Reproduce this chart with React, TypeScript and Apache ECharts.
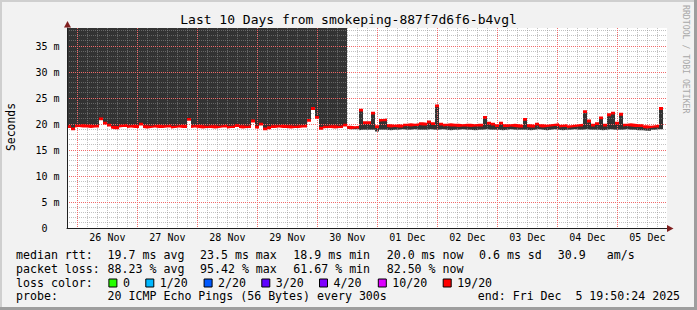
import React, { useEffect, useRef } from 'react';
import * as echarts from 'echarts';

const W = 697;
const H = 310;
const MONO = '"DejaVu Sans Mono", "Liberation Mono", monospace';

const chartTitle = 'Last 10 Days from smokeping-887f7d6f6-b4vgl';
const yAxisName = 'Seconds';
const watermark = 'RRDTOOL / TOBI OETIKER';

// time axis in hours since graph start (Tue Nov 25 19:50:24 2025)
const spanHours = 240;
const sampleStepHours = 1.6;
const firstMidnightHours = 4.16;
const dayLabels = ['26 Nov', '27 Nov', '28 Nov', '29 Nov', '30 Nov', '01 Dec', '02 Dec', '03 Dec', '04 Dec', '05 Dec'];

const yMax = 38.5;
const yMajorTicks = [0, 5, 10, 15, 20, 25, 30, 35];
const yMinorTicks = [1, 2, 3, 4, 6, 7, 8, 9, 11, 12, 13, 14, 16, 17, 18, 19, 21, 22, 23, 24, 26, 27, 28, 29, 31, 32, 33, 34, 36, 37, 38];

// median RTT (ms), one value per sample
const medianRtt = [
  19.5, 19.1, 19.6, 19.7, 19.6, 19.6, 19.5, 19.6, 21.0, 20.2,
  19.8, 19.4, 19.3, 19.6, 19.7, 19.5, 19.6, 19.5, 20.0, 19.5,
  19.4, 19.5, 19.6, 19.5, 19.5, 19.6, 19.4, 19.5, 19.6, 19.5,
  20.9, 19.5, 19.6, 19.5, 19.4, 19.5, 19.5, 19.4, 19.5, 19.6,
  19.4, 19.5, 19.7, 19.5, 19.4, 19.5, 20.6, 19.4, 20.0, 19.1,
  19.3, 19.5, 19.5, 19.6, 19.5, 19.5, 19.4, 19.5, 19.5, 19.6,
  20.7, 23.0, 21.3, 19.2, 19.4, 19.5, 19.5, 19.4, 19.5, 19.8,
  19.4, 19.3, 19.4, 22.7, 20.3, 20.3, 22.1, 19.5, 20.7, 20.8,
  19.7, 19.6, 19.7, 19.6, 19.8, 19.9, 19.8, 19.9, 20.1, 20.0,
  20.4, 20.1, 23.5, 20.0, 19.8, 19.9, 19.8, 19.8, 19.7, 19.8,
  19.8, 19.7, 19.8, 19.8, 21.3, 20.2, 20.0, 19.7, 20.2, 19.7,
  19.7, 19.8, 19.7, 19.6, 20.9, 19.7, 19.6, 20.0, 19.7, 19.6,
  19.7, 19.8, 19.9, 19.6, 19.7, 19.5, 19.6, 19.7, 19.8, 22.4,
  20.6, 19.8, 20.1, 21.2, 19.8, 21.8, 22.1, 20.2, 21.9, 19.8,
  19.9, 19.8, 19.7, 19.7, 19.5, 19.4, 19.5, 19.6, 23.0,
];

// first samples: smoke saturated from median up to the top of the graph
const saturatedSmokeSamples = 70;
// afterwards: smoke from the lowest ping up to the median
const smokeFloorAfter = [
  19.1, 19.0, 19.0, 18.8, 18.9, 18.9, 18.9, 18.6, 18.9, 18.9,
  18.9, 18.8, 18.9, 18.9, 19.0, 18.9, 18.9, 19.0, 18.9, 18.9,
  18.9, 19.0, 18.9, 18.9, 19.0, 18.9, 18.8, 18.9, 18.9, 19.0,
  18.9, 18.9, 18.8, 18.9, 18.9, 19.0, 18.9, 18.9, 18.9, 18.8,
  18.9, 19.0, 18.9, 18.9, 18.9, 18.9, 18.8, 18.9, 19.0, 18.9,
  18.8, 18.9, 19.0, 18.9, 18.8, 18.9, 18.9, 19.0, 18.9, 18.9,
  19.0, 18.9, 18.9, 18.9, 18.8, 18.9, 19.0, 18.9, 18.9, 18.9,
  19.0, 18.9, 18.9, 18.8, 18.8, 18.7, 18.9, 18.9, 19.0,
];
const medianBandHalf = 0.27;

const rttLabel = 'median rtt:';
const rttStats = ['19.7 ms avg', '23.5 ms max', '18.9 ms min', '20.0 ms now', '0.6 ms sd', '30.9', 'am/s'];
const lossLabel = 'packet loss:';
const lossStats = ['88.23 % avg', '95.42 % max', '61.67 % min', '82.50 % now'];
const lossColorLabel = 'loss color:';
const lossNames = ['0', '1/20', '2/20', '3/20', '4/20', '10/20', '19/20'];
const lossColors = ['#26ff00', '#00b8ff', '#0059ff', '#5e00ff', '#7e00ff', '#dd00ff', '#ff0000'];
const probeLabel = 'probe:';
const probeText = '20 ICMP Echo Pings (56 Bytes) every 300s';
const endTextParts = ['end: Fri Dec', '5 19:50:24 2025'];

// layout
const statX = [107.6, 200, 293.3, 386.7, 479, 557.8, 606.7];
const boxX = [108.4, 145.3, 203.6, 261.3, 319, 377.8, 442.7];
const rowY = [254.5, 268.5, 282.5, 296];
const LEGEND_FONT = `11.6px ${MONO}`;
const MINOR_GRID = 'rgba(143,143,143,0.55)';
const MAJOR_GRID = '#f06a6a';

const midnights = dayLabels.map((_, k) => firstMidnightHours + 24 * k);
const noons = dayLabels.map((_, k) => firstMidnightHours + 12 + 24 * k);
function minorHours() {
  const out: number[] = [];
  for (let h = firstMidnightHours - 4; h < spanHours; h += 4) {
    const hh = +h.toFixed(2);
    if (!midnights.some((m) => Math.abs(m - hh) < 0.01)) out.push(hh);
  }
  return out;
}

function staticGraphics() {
  const els: any[] = [
    { type: 'rect', silent: true, shape: { x: 0, y: 0, width: W, height: 2 }, style: { fill: '#cfcfcf' } },
    { type: 'rect', silent: true, shape: { x: 0, y: 0, width: 2, height: H }, style: { fill: '#cfcfcf' } },
    { type: 'rect', silent: true, shape: { x: 0, y: H - 3, width: W, height: 3 }, style: { fill: '#9e9e9e' } },
    { type: 'rect', silent: true, shape: { x: W - 3, y: 0, width: 3, height: H }, style: { fill: '#9e9e9e' } },
    {
      type: 'text',
      x: W / 2,
      y: 19.5,
      silent: true,
      style: { text: chartTitle, font: `13px ${MONO}`, fill: '#000', align: 'center', verticalAlign: 'middle' },
    },
    {
      type: 'text',
      x: 11,
      y: 127,
      rotation: Math.PI / 2,
      silent: true,
      style: { text: yAxisName, font: `11.4px ${MONO}`, fill: '#000', align: 'center', verticalAlign: 'middle' },
    },
    {
      type: 'text',
      x: 686,
      y: 5,
      rotation: -Math.PI / 2,
      silent: true,
      style: { text: watermark, font: `8.2px ${MONO}`, fill: '#a8a8a8', align: 'left', verticalAlign: 'middle' },
    },
    {
      type: 'polygon',
      silent: true,
      z: 10,
      shape: { points: [[67.5, 21], [64, 27.5], [71, 27.5]] },
      style: { fill: '#801f1f' },
    },
    {
      type: 'polygon',
      silent: true,
      z: 10,
      shape: { points: [[673.5, 228.5], [667, 225], [667, 232]] },
      style: { fill: '#801f1f' },
    },
  ];
  const txt = (x: number, y: number, text: string) =>
    els.push({
      type: 'text',
      x,
      y,
      silent: true,
      style: { text, font: LEGEND_FONT, fill: '#000', align: 'left', verticalAlign: 'middle' },
    });
  txt(16, rowY[0], rttLabel);
  rttStats.forEach((s, k) => txt(statX[k], rowY[0], s));
  txt(16, rowY[1], lossLabel);
  lossStats.forEach((s, k) => txt(statX[k], rowY[1], s));
  txt(16, rowY[2], lossColorLabel);
  lossNames.forEach((s, k) => {
    els.push({
      type: 'rect',
      silent: true,
      shape: { x: boxX[k] + 0.5, y: rowY[2] - 3.5, width: 8, height: 8 },
      style: { fill: lossColors[k], stroke: '#000', lineWidth: 1 },
    });
    txt(boxX[k] + 14.5, rowY[2], s);
  });
  txt(16, rowY[3], probeLabel);
  txt(statX[0], rowY[3], probeText);
  txt(477.8, rowY[3], endTextParts[0]);
  txt(575.4, rowY[3], endTextParts[1]);
  return els;
}

// grid lines placed through the chart's own scales
function gridGraphics(chart: echarts.ECharts) {
  const px = (v: number) => chart.convertToPixel({ xAxisIndex: 0 }, v) as number;
  const py = (v: number) => chart.convertToPixel({ yAxisIndex: 0 }, v) as number;
  const x0 = px(0);
  const x1 = px(spanHours);
  const yTop = py(yMax);
  const yBot = py(0);
  const crisp = (v: number) => Math.floor(v) + 0.5;
  const els: any[] = [];
  const vline = (v: number, color: string, z: number) => {
    const x = crisp(px(v));
    els.push({ type: 'line', silent: true, z, shape: { x1: x, y1: yTop, x2: x, y2: yBot }, style: { stroke: color, lineWidth: 1, lineDash: [1, 1] } });
  };
  const hline = (v: number, color: string, z: number) => {
    const y = crisp(py(v));
    els.push({ type: 'line', silent: true, z, shape: { x1: x0, y1: y, x2: x1, y2: y }, style: { stroke: color, lineWidth: 1, lineDash: [1, 1] } });
  };
  minorHours().forEach((h) => vline(h, MINOR_GRID, 3));
  yMinorTicks.forEach((v) => hline(v, MINOR_GRID, 3));
  midnights.forEach((h) => vline(h, MAJOR_GRID, 4));
  yMajorTicks.filter((v) => v > 0).forEach((v) => hline(v, MAJOR_GRID, 4));
  return els;
}

function buildOption() {
  const n = medianRtt.length;
  const slots = Math.round(spanHours / sampleStepHours); // 150 sample slots across the graph
  const categories: string[] = [];
  for (let i = 0; i <= slots; i++) categories.push(String(i));

  const lo = medianRtt.map((m, i) => (i < saturatedSmokeSamples ? m : smokeFloorAfter[i - saturatedSmokeSamples]));
  const hi = medianRtt.map((m, i) => (i < saturatedSmokeSamples ? yMax : m));
  // step 'end' needs a closing point after the last sample
  const pts = (vals: number[]) => [...vals, vals[n - 1]];

  const areaSeries = (name: string, stack: string, vals: number[], color: string, opacity: number, z: number) => ({
    name,
    type: 'line',
    stack,
    step: 'end',
    data: pts(vals),
    symbol: 'none',
    showSymbol: false,
    silent: true,
    lineStyle: { width: 0, opacity: 0 },
    areaStyle: { color, opacity },
    z,
    xAxisIndex: 1,
    yAxisIndex: 0,
  });

  const axisLabelBase = { fontFamily: MONO, fontSize: 10, color: '#000' };

  return {
    animation: false,
    backgroundColor: '#f2f2f2',
    grid: {
      left: 67,
      top: 28,
      width: 600,
      height: 200,
      show: true,
      backgroundColor: '#ffffff',
      borderWidth: 0,
      containLabel: false,
      outerBoundsMode: 'none',
    },
    xAxis: [
      {
        type: 'value',
        min: 0,
        max: spanHours,
        position: 'bottom',
        z: 6,
        axisLine: { show: true, onZero: false, lineStyle: { color: '#202020', width: 1 } },
        axisTick: { show: false, customValues: noons },
        axisLabel: {
          ...axisLabelBase,
          customValues: noons,
          margin: 4,
          formatter: (v: number) => dayLabels[Math.round((v - firstMidnightHours - 12) / 24)] ?? '',
        },
        splitLine: { show: false },
      },
      {
        type: 'category',
        data: categories,
        boundaryGap: false,
        show: false,
        position: 'top',
        axisLine: { show: false },
        axisTick: { show: false },
        axisLabel: { show: false },
        splitLine: { show: false },
      },
    ],
    yAxis: [
      {
        type: 'value',
        min: 0,
        max: yMax,
        position: 'left',
        z: 6,
        axisLine: { show: true, lineStyle: { color: '#202020', width: 1 } },
        axisTick: { show: false, customValues: yMajorTicks },
        axisLabel: {
          ...axisLabelBase,
          customValues: yMajorTicks,
          margin: 7.5,
          formatter: (v: number) => (v === 0 ? '{z|0}' : `${v} m`),
          rich: { z: { ...axisLabelBase, padding: [0, 12, 0, 0] } },
        },
        splitLine: { show: false },
      },
    ],
    series: [
      areaSeries('smokeBase', 'smoke', lo, '#ffffff', 0, 2),
      areaSeries('smoke', 'smoke', hi.map((h, i) => +(h - lo[i]).toFixed(3)), '#333333', 1, 2),
      areaSeries('medianBase', 'median', medianRtt.map((m) => +(m - medianBandHalf).toFixed(3)), '#ffffff', 0, 5),
      areaSeries('median', 'median', medianRtt.map(() => 2 * medianBandHalf), lossColors[6], 1, 5),
    ],
  };
}

export default function App() {
  const ref = useRef<HTMLDivElement>(null);
  useEffect(() => {
    if (!ref.current) return;
    const chart = echarts.init(ref.current, null, { renderer: 'svg', width: W, height: H });
    chart.setOption(buildOption() as any);
    chart.setOption({ graphic: { elements: [...staticGraphics(), ...gridGraphics(chart)] } } as any);
    return () => chart.dispose();
  }, []);
  return <div ref={ref} style={{ position: 'absolute', left: 0, top: 0, width: W, height: H }} />;
}
